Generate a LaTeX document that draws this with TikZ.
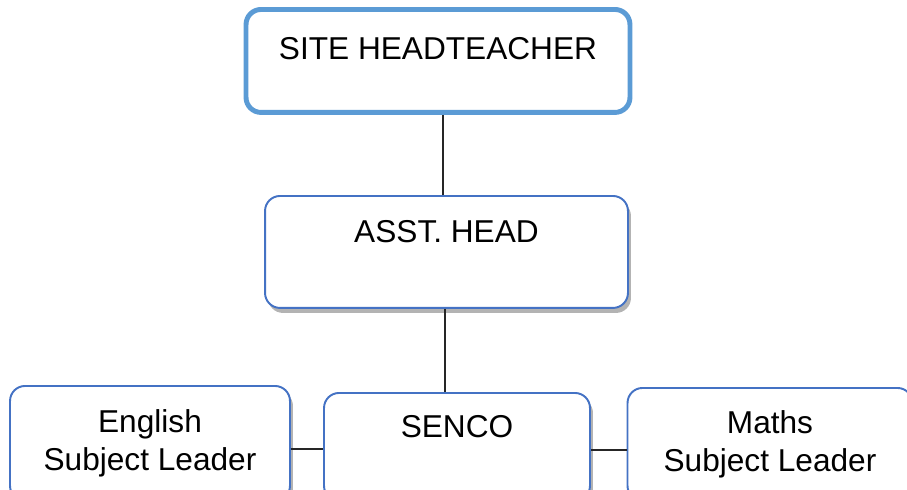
\documentclass[tikz,border=0pt]{standalone}
\usepackage{fontspec}
\setmainfont{Liberation Sans}
\usetikzlibrary{shadows,calc}
\definecolor{orgSky} {HTML}{5B9BD5}
\definecolor{orgBlue}{HTML}{4472C4}

\begin{document}
\begin{tikzpicture}[x=0.02cm,y=-0.02cm,
      box/.style={draw=orgBlue,line width=1.1pt,rounded corners=0.3cm,fill=white,
                  inner ysep=0pt,align=center,font=\fontsize{18}{22}\selectfont},
      role/.style={box,drop shadow={shadow xshift=0.06cm,shadow yshift=-0.1cm,opacity=0.6,fill=gray}},
      link/.style={draw=black!85,line width=1.1pt}]
    \useasboundingbox (0,0) rectangle (907,490);
    \clip (0,0) rectangle (907,490);
    \node[box,draw=orgSky,line width=2.8pt,anchor=north,
          minimum width=7.68cm,text height=1.0cm,text depth=1.06cm] (sh) at (438,7) {SITE HEADTEACHER};
    \node[role,anchor=north,minimum width=7.26cm,text height=0.94cm,text depth=1.3cm] (ah) at (446.5,195) {ASST. HEAD};
    \node[role,anchor=north,minimum width=5.32cm,text height=0.9cm,text depth=1.26cm] (sen) at (457,392) {SENCO};
    \node[role,anchor=north,minimum width=5.6cm,minimum height=2.3cm] (eng) at (150,385) {English\\ Subject Leader};
    \node[role,anchor=north,minimum width=5.7cm,minimum height=2.26cm] (mat) at (770,387) {Maths\\ Subject Leader};
    % connectors
    \draw[link] ($(sh.south)+(5,0)$) coordinate (c1) -- (c1 |- ah.north);
    \draw[link] ($(ah.south)+(-1.5,0)$) coordinate (c2) -- (c2 |- sen.north);
    \draw[link] ([yshift=-0.12cm]eng.east) -- ([yshift=-0.12cm]eng.east -| sen.west);
    \draw[link] ([yshift=-0.12cm]mat.west) -- ([yshift=-0.12cm]mat.west -| sen.east);
  \end{tikzpicture}
\end{document}
